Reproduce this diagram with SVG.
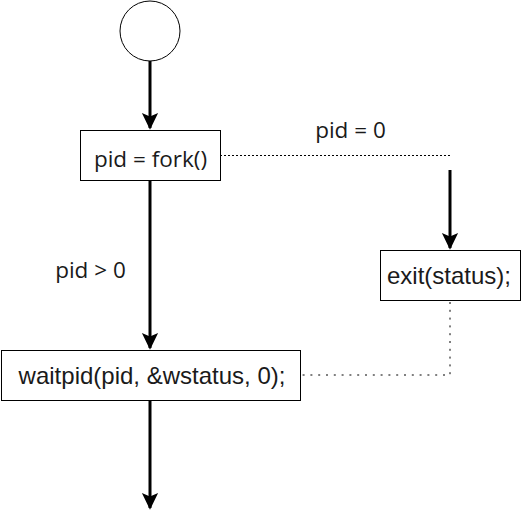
<svg xmlns="http://www.w3.org/2000/svg" width="521" height="520" viewBox="0 0 521 520">
<defs>
<style>
.box{fill:#fff;stroke:#000;stroke-width:1}
.ar{font-family:"Liberation Sans",Arial,sans-serif;font-size:24px;fill:#1a1a1a;text-anchor:middle}
.os{font-family:"Open Sans","Noto Sans",sans-serif;font-size:22.5px;fill:#1a1a1a;text-anchor:middle}
.thick{stroke:#000;stroke-width:3;fill:none}
.dot{stroke:#000;stroke-width:1;fill:none}
</style>
<marker id="ah" markerWidth="6" markerHeight="6" refX="5" refY="3" orient="auto" markerUnits="strokeWidth" viewBox="0 0 6 6">
<path d="M0,0.3 L5.6,3 L0,5.7 L1.2,3 Z" fill="#000"/>
</marker>
</defs>
<g id="connectors">
<line class="thick" x1="150" y1="61" x2="150" y2="128" marker-end="url(#ah)"/>
<line class="thick" x1="150" y1="180" x2="150" y2="348" marker-end="url(#ah)"/>
<line class="thick" x1="150" y1="400" x2="150" y2="508" marker-end="url(#ah)"/>
<path class="dot" d="M220,155.5 H450.5" stroke-dasharray="2,2"/>
<line class="thick" x1="450" y1="170" x2="450" y2="248" marker-end="url(#ah)"/>
<path class="dot" d="M450,302 V375 H302" stroke-dasharray="2,5.8" stroke-width="2"/>
</g>
<g id="start"><circle cx="150" cy="31" r="30" class="box"/></g>
<g id="fork"><rect class="box" x="80.5" y="130.5" width="140" height="50"/><text class="os" x="150.5" y="167">pid = fork()</text></g>
<g id="exit"><rect class="box" x="380.5" y="250.5" width="140" height="50"/><text class="ar" x="449" y="284">exit(status);</text></g>
<g id="waitpid"><rect class="box" x="1.5" y="350.5" width="299" height="50"/><text class="ar" x="152" y="384">waitpid(pid, &amp;wstatus, 0);</text></g>
<g id="labels"><text class="os" x="350.5" y="138">pid = 0</text><text class="os" x="90.5" y="278">pid &gt; 0</text></g>
</svg>
